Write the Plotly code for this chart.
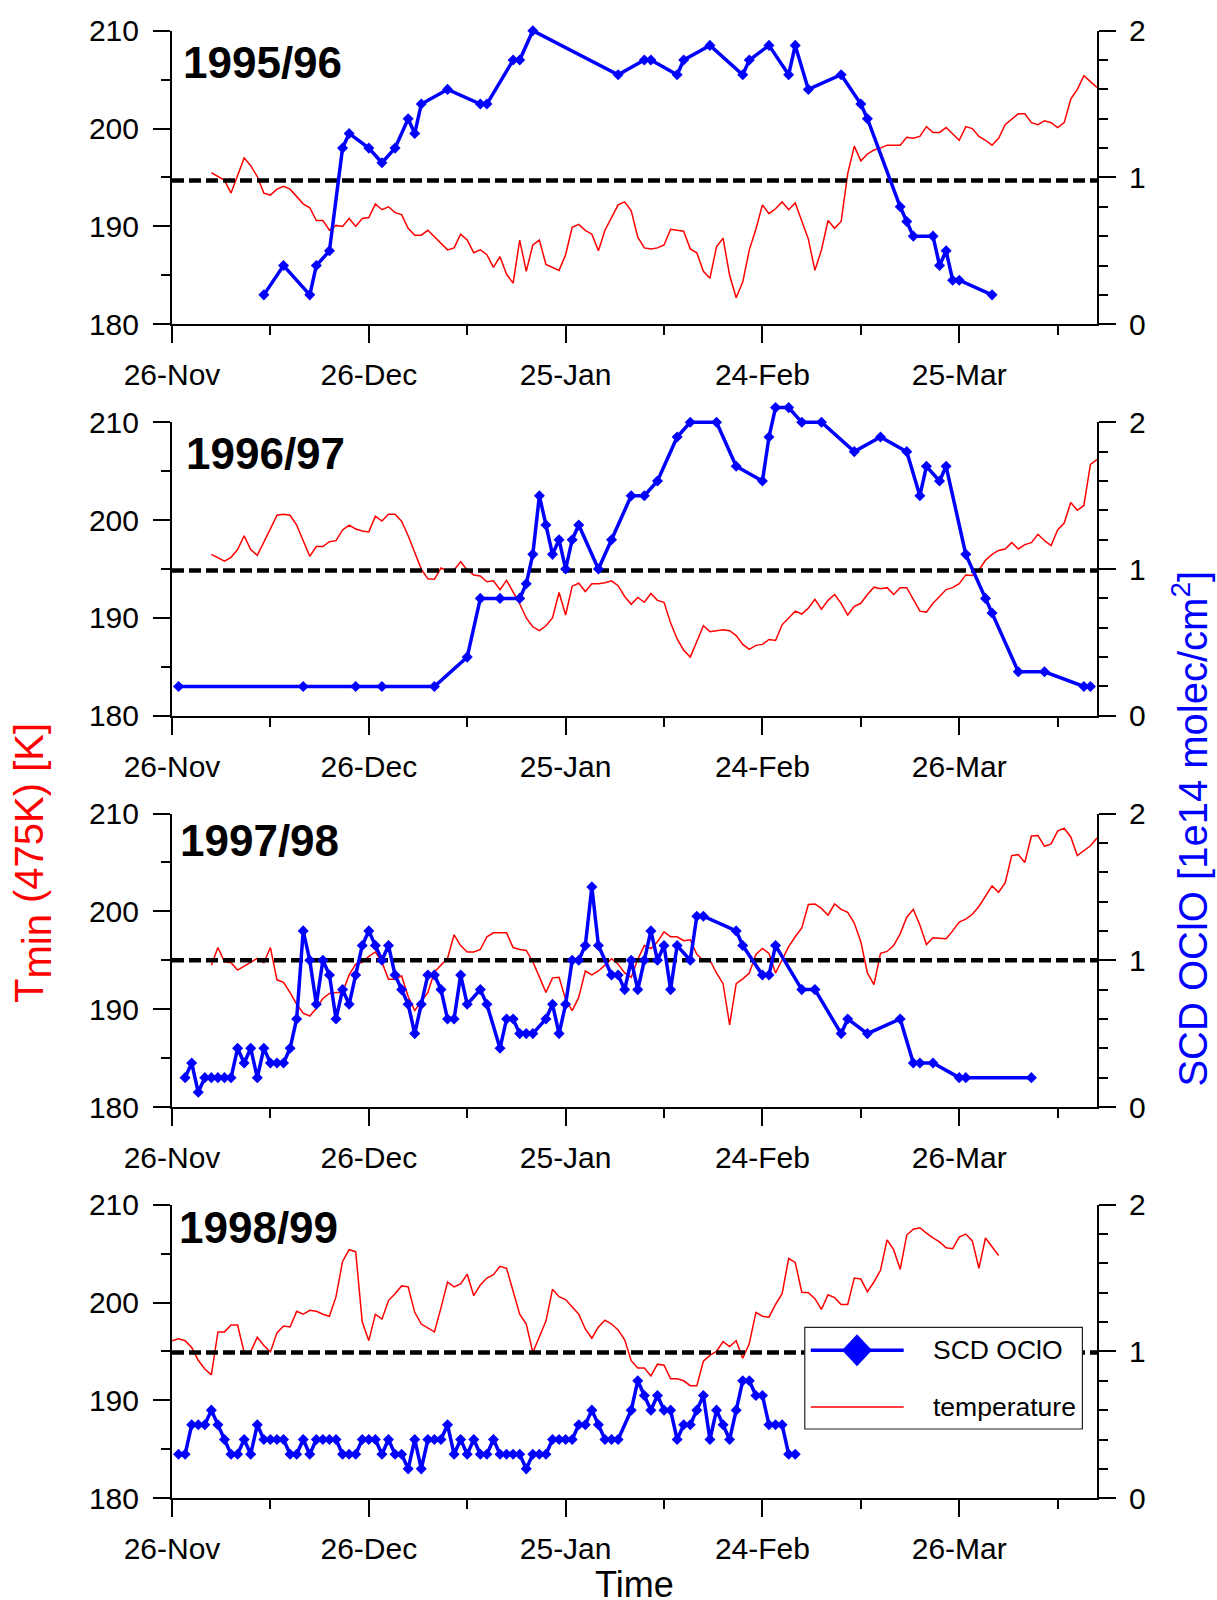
import plotly.graph_objects as go

# ---------------- data ----------------
SEASONS = ["1995/96", "1996/97", "1997/98", "1998/99"]
X_RANGE = [0, 141]                      # days since 26 Nov
XTICK_VALS = [0, 30, 60, 90, 120]
XMINOR_VALS = [15, 45, 75, 105, 135]
XTICK_TEXT = [
    ["26-Nov", "26-Dec", "25-Jan", "24-Feb", "25-Mar"],
    ["26-Nov", "26-Dec", "25-Jan", "24-Feb", "26-Mar"],
    ["26-Nov", "26-Dec", "25-Jan", "24-Feb", "26-Mar"],
    ["26-Nov", "26-Dec", "25-Jan", "24-Feb", "26-Mar"],
]
T_RANGE = [180, 210]
T_TICKS = [180, 190, 200, 210]
T_MINOR = [185, 195, 205]
S_RANGE = [0, 2]
S_TICKS = [0, 1, 2]
S_MINOR = [0.2, 0.4, 0.6, 0.8, 1.2, 1.4, 1.6, 1.8]
NAT_THRESHOLD = [194.7, 194.85, 195.0, 194.9]

# SCD OClO [1e14 molec/cm2]
OCLO_DAYS_9596 = [14, 17, 21, 22, 24, 26, 27, 30, 32, 34, 36, 37, 38, 42, 47, 48, 52, 53, 55,
                  68, 72, 73, 77, 78, 82, 87, 88, 91, 94, 95, 97, 102, 105, 106, 111, 112, 113,
                  116, 117, 118, 119, 120, 125]
OCLO_9596 = [0.2, 0.4, 0.2, 0.4, 0.5, 1.2, 1.3, 1.2, 1.1, 1.2, 1.4, 1.3, 1.5, 1.6, 1.5, 1.5, 1.8, 1.8, 2.0,
             1.7, 1.8, 1.8, 1.7, 1.8, 1.9, 1.7, 1.8, 1.9, 1.7, 1.9, 1.6, 1.7, 1.5, 1.4, 0.8, 0.7, 0.6,
             0.6, 0.4, 0.5, 0.3, 0.3, 0.2]

OCLO_DAYS_9697 = [1, 20, 28, 32, 40, 45, 47, 50, 53, 54, 55, 56, 57, 58, 59, 60, 61, 62, 65, 67, 70,
                  72, 74, 77, 79, 83, 86, 90, 91, 92, 94, 96, 99, 104, 108, 112, 114, 115, 117, 118,
                  121, 124, 125, 129, 133, 139, 140]
OCLO_9697 = [0.2, 0.2, 0.2, 0.2, 0.2, 0.4, 0.8, 0.8, 0.8, 0.9, 1.1, 1.5, 1.3, 1.1, 1.2, 1.0, 1.2, 1.3, 1.0, 1.2, 1.5,
             1.5, 1.6, 1.9, 2.0, 2.0, 1.7, 1.6, 1.9, 2.1, 2.1, 2.0, 2.0, 1.8, 1.9, 1.8, 1.5, 1.7, 1.6, 1.7,
             1.1, 0.8, 0.7, 0.3, 0.3, 0.2, 0.2]

OCLO_DAYS_9798 = [2, 3, 4, 5, 6, 7, 8, 9, 10, 11, 12, 13, 14, 15, 16, 17, 18, 19, 20, 21, 22, 23, 24,
                  25, 26, 27, 28, 29, 30, 31, 32, 33, 34, 35, 36, 37, 38, 39, 40, 41, 42, 43, 44, 45,
                  47, 48, 50, 51, 52, 53, 54, 55, 57, 58, 59, 60, 61, 62, 63, 64, 65, 67, 68, 69, 70,
                  71, 72, 73, 74, 75, 76, 77, 79, 80, 81, 86, 87, 90, 91, 92, 96, 98, 102, 103, 106,
                  111, 113, 114, 116, 120, 121, 131]
OCLO_9798 = [0.2, 0.3, 0.1, 0.2, 0.2, 0.2, 0.2, 0.2, 0.4, 0.3, 0.4, 0.2, 0.4, 0.3, 0.3, 0.3, 0.4, 0.6, 1.2, 1.0, 0.7, 1.0, 0.9,
             0.6, 0.8, 0.7, 0.9, 1.1, 1.2, 1.1, 1.0, 1.1, 0.9, 0.8, 0.7, 0.5, 0.7, 0.9, 0.9, 0.8, 0.6, 0.6, 0.9, 0.7,
             0.8, 0.7, 0.4, 0.6, 0.6, 0.5, 0.5, 0.5, 0.6, 0.7, 0.5, 0.7, 1.0, 1.0, 1.1, 1.5, 1.1, 0.9, 0.9, 0.8, 1.0,
             0.8, 1.0, 1.2, 1.0, 1.1, 0.8, 1.1, 1.0, 1.3, 1.3, 1.2, 1.1, 0.9, 0.9, 1.1, 0.8, 0.8, 0.5, 0.6, 0.5,
             0.6, 0.3, 0.3, 0.3, 0.2, 0.2, 0.2]

OCLO_DAYS_9899 = [1, 2, 3, 4, 5, 6, 7, 8, 9, 10, 11, 12, 13, 14, 15, 16, 17, 18, 19, 20, 21, 22, 23, 24,
                  25, 26, 27, 28, 29, 30, 31, 32, 33, 34, 35, 36, 37, 38, 39, 40, 41, 42, 43, 44, 45, 46,
                  47, 48, 49, 50, 51, 52, 53, 54, 55, 56, 57, 58, 59, 60, 61, 62, 63, 64, 65, 66, 67, 68,
                  70, 71, 72, 73, 74, 75, 76, 77, 78, 79, 80, 81, 82, 83, 84, 85, 86, 87, 88, 89, 90, 91,
                  92, 93, 94, 95]
OCLO_9899 = [0.3, 0.3, 0.5, 0.5, 0.5, 0.6, 0.5, 0.4, 0.3, 0.3, 0.4, 0.3, 0.5, 0.4, 0.4, 0.4, 0.4, 0.3, 0.3, 0.4, 0.3, 0.4, 0.4, 0.4,
             0.4, 0.3, 0.3, 0.3, 0.4, 0.4, 0.4, 0.3, 0.4, 0.3, 0.3, 0.2, 0.4, 0.2, 0.4, 0.4, 0.4, 0.5, 0.3, 0.4, 0.3, 0.4,
             0.3, 0.3, 0.4, 0.3, 0.3, 0.3, 0.3, 0.2, 0.3, 0.3, 0.3, 0.4, 0.4, 0.4, 0.4, 0.5, 0.5, 0.6, 0.5, 0.4, 0.4, 0.4,
             0.6, 0.8, 0.7, 0.6, 0.7, 0.6, 0.6, 0.4, 0.5, 0.5, 0.6, 0.7, 0.4, 0.6, 0.5, 0.4, 0.6, 0.8, 0.8, 0.7, 0.7, 0.5,
             0.5, 0.5, 0.3, 0.3]

# Tmin (475K) [K], daily values starting at TEMP_DAY0_* (days since 26 Nov)
TEMP_DAY0_9596 = 6
TEMP_9596 = [195.5, 195.1, 194.7, 193.4, 195.2, 197.0, 196.2, 195.1, 193.4, 193.2, 193.8, 194.1, 193.8, 193.0,
             192.3, 191.9, 190.6, 190.6, 189.6, 190.1, 190.0, 190.8, 190.0, 190.8, 190.9, 192.3, 191.7, 192.0,
             191.4, 191.2, 189.8, 189.1, 189.1, 189.6, 188.9, 188.2, 187.6, 187.8, 189.2, 188.6, 187.3, 187.6,
             187.1, 185.8, 186.9, 185.1, 184.2, 188.6, 185.4, 188.1, 188.6, 186.1, 185.8, 185.5, 187.1, 189.9,
             190.2, 189.6, 189.2, 187.5, 189.6, 190.9, 192.2, 192.5, 191.6, 188.9, 187.8, 187.7, 187.8, 188.1,
             189.7, 189.6, 189.5, 187.7, 187.3, 185.4, 184.7, 187.9, 188.8, 185.0, 182.7, 184.3, 187.6, 189.7,
             192.2, 191.3, 191.8, 192.5, 191.7, 192.4, 190.6, 188.7, 185.5, 187.6, 190.6, 189.8, 190.5, 195.4,
             198.2, 196.7, 197.4, 197.8, 198.0, 198.3, 198.3, 198.3, 199.1, 199.0, 199.2, 200.2, 199.6, 199.6,
             200.1, 199.5, 198.8, 200.2, 200.0, 199.2, 198.8, 198.3, 199.0, 200.4, 201.0, 201.5, 201.5, 200.6,
             200.4, 200.8, 200.6, 200.1, 200.6, 203.0, 204.0, 205.4, 204.8, 204.2]

TEMP_DAY0_9697 = 6
TEMP_9697 = [196.5, 196.15, 195.8, 196.2, 197.0, 198.4, 197.0, 196.4, 197.7, 199.1, 200.5, 200.6, 200.5, 199.5,
             197.9, 196.3, 197.3, 197.3, 197.8, 197.9, 199.0, 199.5, 199.1, 198.9, 198.8, 200.4, 199.9, 200.6,
             200.6, 199.9, 198.4, 196.6, 195.0, 194.0, 193.95, 195.1, 194.8, 194.9, 195.75, 194.9, 194.4, 194.3,
             193.7, 193.8, 192.9, 193.85, 192.6, 191.45, 190.0, 189.1, 188.7, 189.2, 190.0, 192.6, 190.3, 193.25,
             193.55, 192.7, 193.5, 193.5, 193.6, 193.8, 193.3, 192.2, 191.4, 192.1, 191.6, 192.5, 191.8, 191.6,
             189.5, 187.85, 186.7, 186.0, 187.6, 189.2, 188.6, 188.7, 188.8, 188.7, 188.2, 187.3, 186.8, 187.2,
             187.3, 187.8, 187.7, 189.3, 190.0, 190.7, 190.4, 191.0, 191.9, 190.9, 191.8, 192.4, 191.5, 190.3,
             191.2, 191.5, 192.4, 193.15, 193.0, 193.1, 192.4, 193.1, 193.1, 191.85, 190.7, 190.6, 191.5, 192.2,
             192.9, 193.1, 193.5, 194.4, 194.35, 194.9, 195.9, 196.5, 196.9, 197.05, 197.7, 197.05, 197.5, 197.7,
             198.55, 197.9, 197.4, 199.0, 199.7, 201.8, 201.0, 201.5, 205.7, 206.2]

TEMP_DAY0_9798 = 6
TEMP_9798 = [194.5, 196.3, 194.85, 194.75, 194.0, 194.4, 194.8, 195.2, 194.75, 196.3, 193.0, 192.75, 191.7, 190.5,
             189.6, 189.3, 190.1, 191.1, 191.6, 191.7, 191.7, 193.5, 194.6, 194.8, 195.4, 195.85, 194.8, 193.05,
             193.05, 193.4, 191.3, 189.85, 190.8, 191.7, 193.8, 194.5, 195.2, 197.6, 196.5, 195.85, 195.85, 196.1,
             197.4, 197.8, 197.8, 197.8, 196.3, 196.1, 196.0, 194.85, 193.3, 191.7, 193.2, 193.25, 191.0, 189.85,
             191.2, 193.9, 193.5, 193.9, 194.5, 195.15, 194.6, 193.7, 193.25, 195.1, 196.5, 196.2, 196.9, 197.9,
             197.4, 197.4, 197.0, 197.1, 195.6, 195.0, 195.0, 193.7, 192.6, 188.4, 192.6, 193.1, 193.7, 195.6,
             196.2, 195.7, 193.7, 195.0, 196.4, 197.4, 198.3, 200.7, 200.75, 200.3, 199.6, 200.75, 200.2, 199.9,
             198.8, 196.9, 193.7, 192.5, 195.7, 195.9, 196.5, 197.7, 199.4, 200.2, 198.6, 196.6, 197.3, 197.25,
             197.2, 198.0, 198.9, 199.2, 199.7, 200.5, 201.5, 202.6, 201.95, 202.9, 205.7, 205.8, 205.0, 207.7,
             207.75, 206.65, 206.9, 208.2, 208.5, 207.6, 205.7, 206.2, 206.7, 207.5]

TEMP_DAY0_9899 = 0
TEMP_9899 = [196.1, 196.3, 196.1, 195.4, 194.1, 193.2, 192.6, 197.0, 197.0, 197.7, 197.7, 194.9, 195.0, 196.45,
             195.6, 194.95, 196.9, 197.6, 197.5, 199.1, 198.8, 199.2, 199.1, 198.8, 198.6, 200.6, 204.2, 205.4,
             205.2, 198.0, 196.1, 198.8, 198.3, 200.2, 200.9, 201.7, 201.6, 199.0, 197.8, 197.4, 197.0, 199.45,
             202.1, 201.6, 201.9, 202.9, 200.7, 201.8, 202.5, 202.85, 203.7, 203.5, 201.1, 198.8, 197.8, 194.9,
             196.5, 198.1, 201.35, 200.6, 200.3, 199.6, 198.8, 197.3, 196.35, 197.5, 198.2, 197.8, 197.2, 196.2,
             194.05, 193.3, 193.3, 192.5, 193.7, 193.6, 192.2, 192.2, 192.0, 191.5, 191.5, 194.0, 194.6, 195.0,
             196.0, 195.5, 196.1, 194.3, 195.8, 199.0, 198.6, 198.5, 199.8, 200.9, 204.5, 204.1, 201.05, 201.0,
             200.4, 199.3, 200.8, 200.5, 199.8, 199.8, 202.5, 202.4, 201.1, 202.1, 203.3, 206.4, 205.4, 203.4,
             206.9, 207.5, 207.65, 207.1, 206.6, 206.2, 205.6, 205.5, 206.7, 207.0, 206.3, 203.5, 206.6, 205.7,
             204.8]

OCLO_DAYS = [OCLO_DAYS_9596, OCLO_DAYS_9697, OCLO_DAYS_9798, OCLO_DAYS_9899]
OCLO = [OCLO_9596, OCLO_9697, OCLO_9798, OCLO_9899]
TEMP_DAY0 = [TEMP_DAY0_9596, TEMP_DAY0_9697, TEMP_DAY0_9798, TEMP_DAY0_9899]
TEMP = [TEMP_9596, TEMP_9697, TEMP_9798, TEMP_9899]

# ---------------- layout geometry (pixels) ----------------
W, H = 1217, 1600
ML, MR = 172, 120
PW = W - ML - MR
PANEL_TOP = [30.7, 422.3, 813.5, 1204.7]
PANEL_H = 293.5
EXT = 30.0                      # headroom so OClO values above 2 are not clipped
LABEL_LEFT = [184.6, 187.5, 181.8, 181.0]
LABEL_DY = [31.3, 31.5, 27.0, 22.5]

FONT = "Liberation Sans, Arial, Helvetica, sans-serif"


def px(xp):
    return (xp - ML) / PW


def py(yp):
    return 1 - yp / H


fig = go.Figure()
layout = dict(
    width=W, height=H, template="none",
    margin=dict(l=ML, r=MR, t=0, b=0, pad=0),
    paper_bgcolor="white", plot_bgcolor="rgba(0,0,0,0)",
    font=dict(family=FONT, size=30, color="black"),
    showlegend=False,
)

axis_common = dict(
    showgrid=False, zeroline=False, showline=True, linecolor="black", linewidth=2,
    ticks="outside", ticklen=17, tickwidth=2, tickcolor="black",
    tickfont=dict(family=FONT, size=30, color="black"), automargin=False,
)

annotations = []
for i in range(4):
    xname = "xaxis" if i == 0 else f"xaxis{i + 1}"
    xref = "x" if i == 0 else f"x{i + 1}"
    ylnum, yrnum, yhnum = 2 * i + 1, 2 * i + 2, 9 + i
    ylname = "yaxis" if ylnum == 1 else f"yaxis{ylnum}"
    ylref = "y" if ylnum == 1 else f"y{ylnum}"
    yrname, yrref = f"yaxis{yrnum}", f"y{yrnum}"
    yhname, yhref = f"yaxis{yhnum}", f"y{yhnum}"
    top = PANEL_TOP[i]
    dom = [py(top + PANEL_H), py(top)]

    layout[xname] = dict(axis_common, domain=[0, 1], anchor=ylref, range=X_RANGE,
                         tickmode="array", tickvals=XTICK_VALS, ticktext=XTICK_TEXT[i],
                         ticklabelstandoff=6,
                         minor=dict(tickvals=XMINOR_VALS, ticks="outside", ticklen=9,
                                    tickwidth=2, tickcolor="black", showgrid=False))
    layout[ylname] = dict(axis_common, domain=dom, anchor=xref, range=T_RANGE, side="left",
                          tickmode="array", tickvals=T_TICKS, ticklabelstandoff=8,
                          minor=dict(tickvals=T_MINOR, ticks="outside", ticklen=9,
                                     tickwidth=2, tickcolor="black", showgrid=False))
    layout[yrname] = dict(axis_common, overlaying=ylref, anchor=xref, range=S_RANGE, side="right",
                          tickmode="array", tickvals=S_TICKS, ticklabelstandoff=7,
                          minor=dict(tickvals=S_MINOR, ticks="outside", ticklen=9,
                                     tickwidth=2, tickcolor="black", showgrid=False))
    # hidden twin of the right axis (same scale, taller clip box)
    s_top = S_RANGE[1] + (S_RANGE[1] - S_RANGE[0]) * EXT / PANEL_H
    layout[yhname] = dict(visible=False, domain=[py(top + PANEL_H), py(top - EXT)], anchor=xref,
                          range=[S_RANGE[0], s_top], side="right", showgrid=False,
                          zeroline=False, automargin=False)

    tdays = list(range(TEMP_DAY0[i], TEMP_DAY0[i] + len(TEMP[i])))
    fig.add_trace(go.Scatter(x=tdays, y=TEMP[i], mode="lines", name="temperature",
                             line=dict(color="#ff0000", width=1.5),
                             xaxis=xref, yaxis=ylref, hoverinfo="skip"))
    fig.add_trace(go.Scatter(x=X_RANGE, y=[NAT_THRESHOLD[i]] * 2, mode="lines",
                             line=dict(color="black", width=4.5, dash="12px,5px"),
                             xaxis=xref, yaxis=ylref, hoverinfo="skip"))
    # invisible trace so the visible right axis gets drawn
    fig.add_trace(go.Scatter(x=[], y=[], mode="lines", xaxis=xref, yaxis=yrref, hoverinfo="skip"))
    fig.add_trace(go.Scatter(x=OCLO_DAYS[i], y=OCLO[i], mode="lines+markers", name="SCD OClO",
                             line=dict(color="#0000ff", width=3.5),
                             marker=dict(symbol="diamond", size=8.5, color="#0000ff"),
                             cliponaxis=False, xaxis=xref, yaxis=yhref))

    annotations.append(dict(text=f"<b>{SEASONS[i]}</b>", showarrow=False,
                            xref=f"{xref} domain", yref=f"{ylref} domain",
                            x=0, y=1, xanchor="left", yanchor="middle",
                            xshift=LABEL_LEFT[i] - ML - 4, yshift=-LABEL_DY[i],
                            font=dict(family=FONT, size=44, color="black")))

# axis titles
annotations.append(dict(text="T<sub><span style='font-size:40px'>min</span></sub> (475K) [K]",
                        showarrow=False, textangle=-90, xref="paper", yref="paper",
                        x=px(33), y=py(863), xanchor="center", yanchor="middle",
                        font=dict(family=FONT, size=40, color="#ff0000")))
annotations.append(dict(text="SCD OClO [1e14 molec/cm<sup>2</sup>]",
                        showarrow=False, textangle=-90, xref="paper", yref="paper",
                        x=px(1190), y=py(828.6), xanchor="center", yanchor="middle",
                        font=dict(family=FONT, size=40, color="#0000ff")))
annotations.append(dict(text="Time", showarrow=False, xref="paper", yref="paper",
                        x=0.5, y=py(1584), xanchor="center", yanchor="middle",
                        font=dict(family=FONT, size=36, color="black")))

# custom legend (bottom panel)
LEG_BOX = (804.8, 1327.3, 1082.4, 1429.0)
LEG_LINE_X = (810.8, 903.7)
LEG_ROW_Y = (1350.3, 1407.0)
LEG_TEXT_X = 931.0
DIAMOND_C = (857.0, 1350.3)
DIAMOND_HALF = (15.0, 16.0)

shapes = [
    dict(type="rect", xref="paper", yref="paper", layer="above",
         x0=px(LEG_BOX[0]), x1=px(LEG_BOX[2]), y0=py(LEG_BOX[3]), y1=py(LEG_BOX[1]),
         fillcolor="white", line=dict(color="#222222", width=1.2)),
    dict(type="line", xref="paper", yref="paper", layer="above",
         x0=px(LEG_LINE_X[0]), x1=px(LEG_LINE_X[1]), y0=py(LEG_ROW_Y[0]), y1=py(LEG_ROW_Y[0]),
         line=dict(color="#0000ff", width=3.5)),
    dict(type="line", xref="paper", yref="paper", layer="above",
         x0=px(LEG_LINE_X[0]), x1=px(LEG_LINE_X[1]), y0=py(LEG_ROW_Y[1]), y1=py(LEG_ROW_Y[1]),
         line=dict(color="#ff0000", width=1.5)),
]
cx, cy = DIAMOND_C
hx, hy = DIAMOND_HALF
path = (f"M {px(cx - hx)},{py(cy)} L {px(cx)},{py(cy - hy)} "
        f"L {px(cx + hx)},{py(cy)} L {px(cx)},{py(cy + hy)} Z")
shapes.append(dict(type="path", xref="paper", yref="paper", layer="above", path=path,
                   fillcolor="#0000ff", line=dict(color="#0000ff", width=0)))

annotations.append(dict(text="SCD OClO", showarrow=False, xref="paper", yref="paper",
                        x=px(LEG_TEXT_X), y=py(1349.7), xanchor="left", yanchor="middle",
                        font=dict(family=FONT, size=26.5, color="black")))
annotations.append(dict(text="temperature", showarrow=False, xref="paper", yref="paper",
                        x=px(LEG_TEXT_X), y=py(1406.6), xanchor="left", yanchor="middle",
                        font=dict(family=FONT, size=26.5, color="black")))

layout["annotations"] = annotations
layout["shapes"] = shapes
fig.update_layout(**layout)
fig.write_html("out.html")
